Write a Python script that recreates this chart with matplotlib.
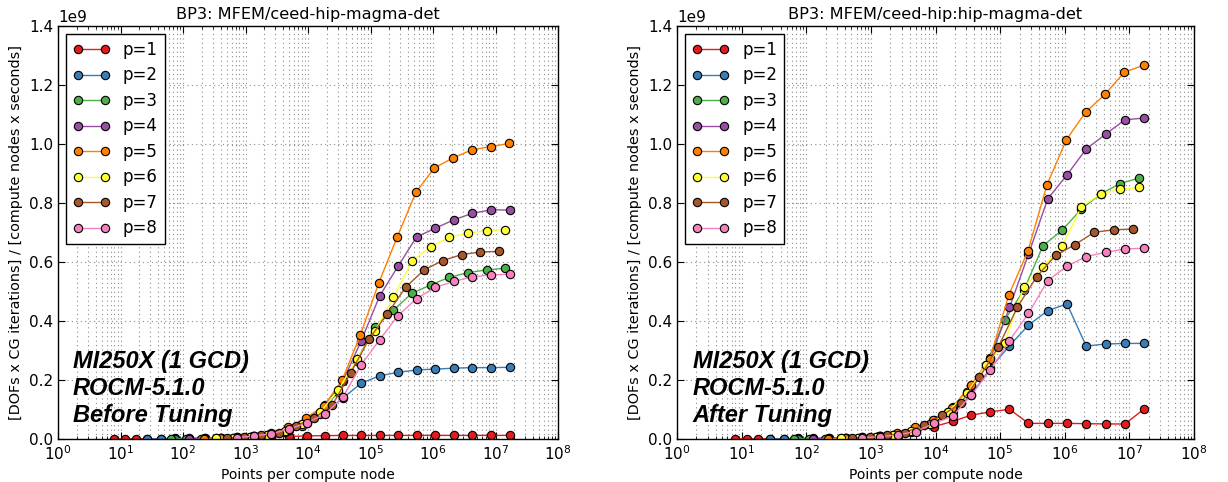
import matplotlib
matplotlib.use("Agg")
import matplotlib.pyplot as plt
from matplotlib.ticker import LogLocator

# points per compute node for each order p
x_p1 = [8, 12, 18, 27, 45, 75, 125, 225, 405, 729, 1377, 2601, 4913, 9537, 18513, 35937,
        70785, 139425, 274625, 545025, 1081665, 2146689, 4276737, 8520321, 16974593]
x_p2 = [27, 45, 75, 125, 225, 405, 729, 1377, 2601, 4913, 9537, 18513, 35937, 70785,
        139425, 274625, 545025, 1081665, 2146689, 4276737, 8520321, 16974593]
x_p3 = [64, 112, 196, 343, 637, 1183, 2197, 4225, 8125, 15625, 30625, 60025, 117649,
        232897, 461041, 912673, 1815937, 3613153, 7189057, 14340865]
x_p4 = [125, 225, 405, 729, 1377, 2601, 4913, 9537, 18513, 35937, 70785, 139425, 274625,
        545025, 1081665, 2146689, 4276737, 8520321, 16974593]
x_p5 = [216, 396, 726, 1331, 2541, 4851, 9261, 18081, 35301, 68921, 136161, 269001,
        531441, 1056321, 2099601, 4173281, 8320641, 16589601]
x_p6 = [343, 637, 1183, 2197, 4225, 8125, 15625, 30625, 60025, 117649, 232897, 461041,
        912673, 1815937, 3613153, 7189057, 14340865]
x_p7 = [512, 960, 1800, 3375, 6525, 12615, 24389, 47937, 94221, 185193, 367137, 727833,
        1442897, 2873025, 5720625, 11390625]
x_p8 = [729, 1377, 2601, 4913, 9537, 18513, 35937, 70785, 139425, 274625, 545025,
        1081665, 2146689, 4276737, 8520321, 16974593]

# throughput in units of 1e9, before tuning
before_p1 = [0.0003, 0.0004, 0.0006, 0.0009, 0.0013, 0.002, 0.0028, 0.0038, 0.0048, 0.0058,
             0.0068, 0.0076, 0.0085, 0.0105, 0.0115, 0.012, 0.012, 0.0122, 0.0122, 0.0123,
             0.0123, 0.0123, 0.0123, 0.0123, 0.0124]
before_p2 = [0.0002, 0.0004, 0.0006, 0.001, 0.0018, 0.003, 0.005, 0.009, 0.016, 0.03, 0.055,
             0.09, 0.138, 0.189, 0.214, 0.226, 0.234, 0.237, 0.240, 0.242, 0.242, 0.243]
before_p3 = [0.0004, 0.0007, 0.0012, 0.002, 0.004, 0.008, 0.014, 0.025, 0.045, 0.085, 0.16,
             0.265, 0.381, 0.437, 0.494, 0.522, 0.548, 0.564, 0.573, 0.579]
before_p4 = [0.0008, 0.0014, 0.0025, 0.005, 0.009, 0.017, 0.035, 0.065, 0.115, 0.195, 0.332,
             0.484, 0.585, 0.685, 0.714, 0.743, 0.765, 0.777, 0.776]
before_p5 = [0.0015, 0.003, 0.006, 0.011, 0.02, 0.04, 0.071, 0.113, 0.200, 0.353, 0.530,
             0.686, 0.836, 0.919, 0.953, 0.980, 0.991, 1.002]
before_p6 = [0.002, 0.004, 0.008, 0.015, 0.027, 0.05, 0.09, 0.166, 0.27, 0.366, 0.481, 0.603,
             0.652, 0.684, 0.698, 0.706, 0.710]
before_p7 = [0.003, 0.006, 0.012, 0.022, 0.045, 0.072, 0.114, 0.223, 0.338, 0.424, 0.515,
             0.574, 0.605, 0.625, 0.634, 0.636]
before_p8 = [0.005, 0.01, 0.018, 0.033, 0.055, 0.084, 0.141, 0.251, 0.336, 0.418, 0.476,
             0.514, 0.534, 0.550, 0.556, 0.559]

# after tuning
after_p1 = [0.0003, 0.0004, 0.0006, 0.0009, 0.0013, 0.002, 0.0028, 0.0038, 0.005, 0.007,
            0.01, 0.016, 0.026, 0.042, 0.06, 0.081, 0.092, 0.101, 0.053, 0.053, 0.053,
            0.052, 0.051, 0.051, 0.102]
after_p2 = [0.0002, 0.0004, 0.0006, 0.001, 0.0018, 0.003, 0.005, 0.009, 0.016, 0.03, 0.055,
            0.09, 0.15, 0.24, 0.316, 0.386, 0.435, 0.458, 0.315, 0.322, 0.324, 0.324]
after_p3 = [0.0004, 0.0007, 0.0012, 0.002, 0.004, 0.008, 0.014, 0.025, 0.05, 0.09, 0.16,
            0.25, 0.403, 0.505, 0.655, 0.708, 0.780, 0.831, 0.866, 0.885]
after_p4 = [0.0008, 0.0014, 0.0025, 0.005, 0.009, 0.017, 0.035, 0.065, 0.11, 0.18, 0.273,
            0.446, 0.626, 0.814, 0.895, 0.983, 1.033, 1.082, 1.088]
after_p5 = [0.0015, 0.003, 0.006, 0.011, 0.02, 0.04, 0.064, 0.106, 0.183, 0.27, 0.488,
            0.637, 0.862, 1.014, 1.108, 1.168, 1.243, 1.267]
after_p6 = [0.002, 0.004, 0.008, 0.015, 0.027, 0.05, 0.093, 0.155, 0.25, 0.327, 0.515,
            0.584, 0.654, 0.788, 0.831, 0.846, 0.853]
after_p7 = [0.003, 0.006, 0.012, 0.022, 0.047, 0.08, 0.121, 0.209, 0.313, 0.447, 0.550,
            0.623, 0.659, 0.701, 0.709, 0.712]
after_p8 = [0.004, 0.008, 0.014, 0.025, 0.053, 0.078, 0.15, 0.234, 0.333, 0.426, 0.537,
            0.586, 0.618, 0.633, 0.644, 0.647]

labels = ['p=1', 'p=2', 'p=3', 'p=4', 'p=5', 'p=6', 'p=7', 'p=8']
colors = ['#e41a1c', '#377eb8', '#4daf4a', '#984ea3', '#ff7f00', '#ffff33', '#a65628', '#f781bf']
xs = [x_p1, x_p2, x_p3, x_p4, x_p5, x_p6, x_p7, x_p8]
before = [before_p1, before_p2, before_p3, before_p4, before_p5, before_p6, before_p7, before_p8]
after = [after_p1, after_p2, after_p3, after_p4, after_p5, after_p6, after_p7, after_p8]

plt.rcParams['mathtext.fontset'] = 'dejavusans'

fig = plt.figure(figsize=(12.28, 4.82), dpi=100, facecolor='white')
ax1 = fig.add_axes([58 / 1228, 43 / 482, 500 / 1228, 413 / 482])
ax2 = fig.add_axes([677 / 1228, 43 / 482, 517 / 1228, 413 / 482])

panels = [
    (ax1, before, 'BP3: MFEM/ceed-hip-magma-det', 'MI250X (1 GCD)\nROCM-5.1.0\nBefore Tuning'),
    (ax2, after, 'BP3: MFEM/ceed-hip:hip-magma-det', 'MI250X (1 GCD)\nROCM-5.1.0\nAfter Tuning'),
]

for ax, data, title, note in panels:
    for x, y, c, lab in zip(xs, data, colors, labels):
        ax.plot(x, [v * 1e9 for v in y], '-o', color=c, lw=1.0, ms=6,
                mec='k', mew=0.8, label=lab)
    ax.set_xscale('log')
    ax.set_xlim(1, 1e8)
    ax.set_ylim(0, 1.4e9)
    ax.set_yticks([i * 0.2e9 for i in range(8)])
    ax.xaxis.set_major_locator(LogLocator(base=10, numticks=10))
    ax.xaxis.set_minor_locator(LogLocator(base=10, subs=range(2, 10), numticks=10))
    ax.grid(True, which='both', axis='x', color='0.55', lw=0.8, dashes=(1, 3))
    ax.grid(True, which='major', axis='y', color='0.55', lw=0.8, dashes=(1, 3))
    ax.tick_params(which='both', direction='in', top=True, right=True, labelsize=11)
    ax.tick_params(which='major', length=5)
    ax.tick_params(which='minor', length=2.5)
    ax.yaxis.get_offset_text().set_fontsize(11)
    for s in ax.spines.values():
        s.set_linewidth(1.0)
    ax.set_title(title, fontsize=11.6, pad=5)
    ax.set_xlabel('Points per compute node', fontsize=10)
    ax.set_ylabel('[DOFs x CG iterations] / [compute nodes x seconds]', fontsize=10.4)
    leg = ax.legend(loc='upper left', numpoints=2, fontsize=12, fancybox=False,
                    framealpha=1, edgecolor='k', borderaxespad=0.5, handlelength=2.2,
                    labelspacing=0.45)
    leg.get_frame().set_linewidth(1.0)
    ax.text(0.03, 0.03, note, transform=ax.transAxes, ha='left', va='bottom',
            fontsize=17, fontweight='bold', fontstyle='italic',
            family='Liberation Sans', linespacing=1.22)

fig.savefig('out.png', dpi=100, facecolor='white')
